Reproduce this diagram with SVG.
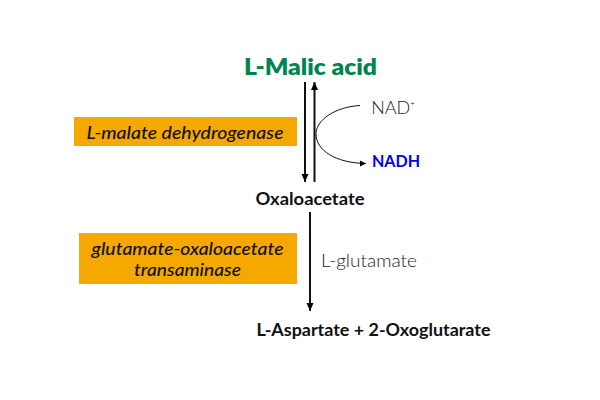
<svg xmlns="http://www.w3.org/2000/svg" width="600" height="400" viewBox="0 0 600 400">
<defs>
<marker id="a" markerUnits="userSpaceOnUse" markerWidth="7" markerHeight="10" refX="8" refY="3.500" orient="auto"><path d="M0 0L8 3.500L0 7z" fill="#000"/></marker>
<marker id="b" markerUnits="userSpaceOnUse" markerWidth="7" markerHeight="7" refX="6" refY="3" orient="auto"><path d="M0 0L6 3L0 6z" fill="#000"/></marker>
</defs>
<style>
text{font-family:"Lato","Open Sans",sans-serif;text-anchor:middle}
.bd{font-weight:700;font-size:16.500px;fill:#111}
.en{font-style:italic;font-weight:500;font-size:17.500px;fill:#111}
.lt{font-weight:300;font-size:18px;fill:#222}
.box{fill:#f5a800}
.c{fill:none;stroke:#111;stroke-width:2}
</style>
<rect width="600" height="400" fill="#fff"/>
<g id="connectors">
<path class="c" d="M305 82V182" marker-end="url(#a)"/>
<path class="c" d="M314.500 182V82" marker-end="url(#a)"/>
<path class="c" style="stroke-width:1" d="M360 105.500C335 107 316 120 316 134C316 150 335 163 366 163.500" marker-end="url(#b)"/>
<path class="c" d="M310 212V311" marker-end="url(#a)"/>
</g>
<g id="malic"><text x="310.500" y="75" textLength="133" lengthAdjust="spacingAndGlyphs" style="font-weight:800;font-size:23px;fill:#00844f">L-Malic acid</text></g>
<g id="nad"><text x="393" y="114" class="lt">NAD<tspan dy="-8" style="font-size:8px">+</tspan></text></g>
<g id="nadh"><text x="396" y="167" textLength="48" lengthAdjust="spacingAndGlyphs" style="font-weight:700;font-size:17px;fill:#0000f0">NADH</text></g>
<g id="mdh"><rect class="box" x="74" y="117" width="223" height="29"/><text class="en" x="185" y="139" textLength="197" lengthAdjust="spacingAndGlyphs">L-malate dehydrogenase</text></g>
<g id="oxaloacetate"><text class="bd" x="310" y="205" textLength="109" lengthAdjust="spacingAndGlyphs">Oxaloacetate</text></g>
<g id="got"><rect class="box" x="79" y="233" width="218" height="51"/><text class="en" x="187.500" y="255" textLength="192" lengthAdjust="spacingAndGlyphs">glutamate-oxaloacetate</text><text class="en" x="187.500" y="276" textLength="107" lengthAdjust="spacingAndGlyphs">transaminase</text></g>
<g id="glutamate"><text class="lt" x="369" y="267" textLength="96" lengthAdjust="spacingAndGlyphs">L-glutamate</text></g>
<g id="products"><text class="bd" x="373.500" y="336" textLength="234" lengthAdjust="spacingAndGlyphs">L-Aspartate + 2-Oxoglutarate</text></g>
</svg>
